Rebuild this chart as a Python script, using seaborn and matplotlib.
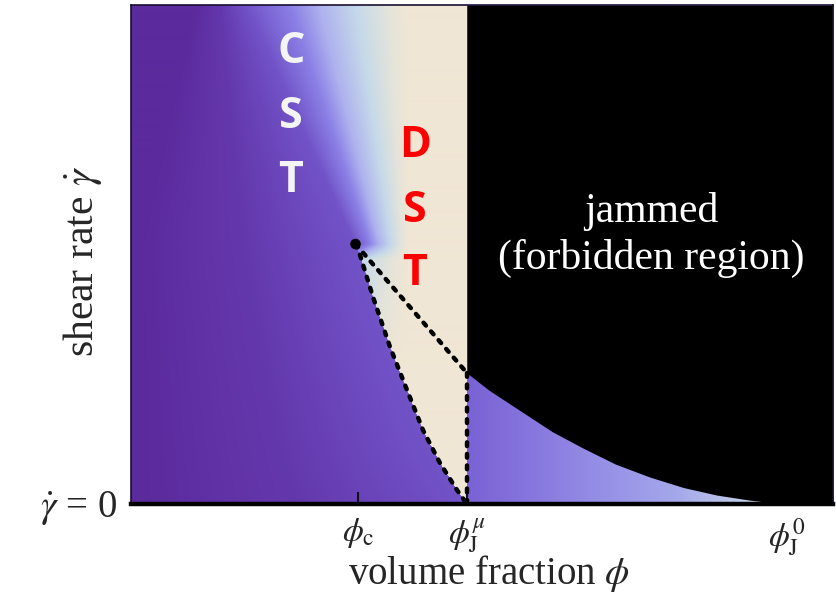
import numpy as np
import matplotlib
matplotlib.use("Agg")
import matplotlib.pyplot as plt
from matplotlib.colors import LinearSegmentedColormap
import seaborn as sns

# ---- state diagram in normalised (volume fraction, shear rate) coordinates ----
tick_positions = [0.3234, 0.4786, 0.9345]
tick_labels = [r"$\phi_{\mathrm{c}}$", r"$\phi_{\mathrm{J}}^{\mu}$", r"$\phi_{\mathrm{J}}^{0}$"]
phi_c, phi_J_mu, phi_J_0 = tick_positions

critical_phi = [0.3198]
critical_rate = [0.521]

# left DST boundary: critical point down to (phi_J^mu, 0)
dst_left_phi = [0.3198, 0.3262, 0.3447, 0.3689, 0.3932, 0.4160, 0.4402, 0.4644, 0.4786]
dst_left_rate = [0.521, 0.499, 0.415, 0.315, 0.2285, 0.148, 0.082, 0.028, 0.0]
# upper DST boundary: critical point to the jamming line at phi_J^mu
dst_upper_phi = [0.3198, 0.4786]
dst_upper_rate = [0.521, 0.2625]
# vertical DST boundary at phi_J^mu
dst_vert_phi = [0.4786, 0.4786]
dst_vert_rate = [0.2625, 0.0]

# jamming line between phi_J^mu and phi_J^0
jam_phi = [0.4786, 0.51, 0.549, 0.60, 0.644, 0.69, 0.739, 0.787, 0.834, 0.88, 0.91, 0.9345]
jam_rate = [0.2625, 0.228, 0.192, 0.145, 0.112, 0.080, 0.054, 0.033, 0.018, 0.008, 0.003, 0.0]

# crossover (CST) band: where the fluid colour starts to lighten at the top,
# where the dark region ends at the top, and where the band turns beige
cst_left_top = 0.165
cst_dark_top = 0.09
cst_right = 0.395

region_labels = ["jammed", "(forbidden region)"]
cst_letters = ["C", "S", "T"]
dst_letters = ["D", "S", "T"]

sns.set_theme(style="white")
plt.rcParams["font.family"] = ["Liberation Serif", "DejaVu Serif"]
plt.rcParams["mathtext.fontset"] = "stix"

# ---- colour maps for the viscosity shading ----
purple_cmap = sns.blend_palette(["#5b2a9c", "#6438ad", "#7254c8"], as_cmap=True)
cross_cmap = LinearSegmentedColormap.from_list(
    "cross",
    [(0.0, "#7254c8"), (0.27, "#8b80e6"), (0.45, "#aeb2ee"),
     (0.68, "#c6d9e9"), (0.88, "#e4e4da"), (1.0, "#f0e6d5")])
flow_cmap = LinearSegmentedColormap.from_list(
    "flow",
    [(0.0, "#7a62d4"), (0.16, "#8472dc"), (0.41, "#958ee6"), (0.66, "#a5a8ea"),
     (0.85, "#bfcbeb"), (0.94, "#d6e0e6"), (1.0, "#ebe9df")])

ny, nx = 500, 702
xs = (np.arange(nx) + 0.5) / nx
ys = (np.arange(ny) + 0.5) / ny
X, Y = np.meshgrid(xs, ys)
xc, yc = critical_phi[0], critical_rate[0]

frac = np.clip((Y - yc) / (1 - yc), 0, None)
xL_above = xc + (cst_left_top - xc) * frac
x0 = cst_dark_top * frac
xd = np.interp(Y, dst_left_rate[::-1], dst_left_phi[::-1])
above = Y >= yc

edge = np.where(above, xL_above, xd)
u = np.clip((X - x0) / np.maximum(edge - x0, 1e-6), 0, 1)
t_above = np.clip((X - xL_above) / (cst_right - xL_above), 0, 1)
# below the critical point the light band right of the DST line fades into beige
depth = np.clip(yc - Y, 0, None)
lift = 0.62 * np.clip(depth / 0.03, 0, 1) + 0.38 * np.clip(depth / 0.22, 0, 1)
ramp = np.clip((X - xd) / np.maximum(cst_right - xd, 1e-6), 0, 1)
ramp = np.where(xd < cst_right, ramp, 1.0)
t_below = np.clip(lift + (1 - lift) * ramp, 0, 1)
t = np.where(above, t_above, t_below)
rgb = np.where((X < edge)[..., None], purple_cmap(u)[..., :3], cross_cmap(t)[..., :3])
s = np.clip((X - phi_J_mu) / (phi_J_0 - phi_J_mu), 0, 1)
rgb = np.where((X >= phi_J_mu)[..., None], flow_cmap(s)[..., :3], rgb)

# ---- figure ----
fig = plt.figure(figsize=(8.37, 5.98), dpi=100)
ax = fig.add_axes([131 / 837, 1 - 504 / 598, 702 / 837, 499 / 598])

ax.imshow(rgb, extent=(0, 1, 0, 1), origin="lower", aspect="auto",
          interpolation="bilinear", zorder=0)

# jammed (forbidden) region above the jamming line
ax.fill_between(np.r_[jam_phi, 1.0], np.r_[jam_rate, 0.0], 1.0,
                color="black", lw=0, zorder=1)

n_before = len(ax.get_lines())
for bx, by in [(dst_left_phi, dst_left_rate), (dst_upper_phi, dst_upper_rate),
               (dst_vert_phi, dst_vert_rate)]:
    sns.lineplot(x=bx, y=by, ax=ax, color="black", estimator=None, sort=False)
for ln in ax.get_lines()[n_before:]:
    ln.set_linewidth(3.2)
    ln.set_linestyle((0, (0.85, 1.75)))
    ln.set_dash_capstyle("round")
    ln.set_zorder(3)

sns.scatterplot(x=critical_phi, y=critical_rate, ax=ax, s=58, color="black",
                edgecolor="none", zorder=4)

for letter, yb in zip(cst_letters, [0.884, 0.7535, 0.625]):
    ax.text(0.228, yb, letter, color="#f4f4f4", fontsize=31, fontweight="bold",
            family=["Open Sans", "DejaVu Sans"], ha="center", va="baseline", zorder=5)
for letter, yb in zip(dst_letters, [0.695, 0.565, 0.439]):
    ax.text(0.4046, yb, letter, color="#ff0000", fontsize=31, fontweight="bold",
            family=["Open Sans", "DejaVu Sans"], ha="center", va="baseline", zorder=5)
for label, yb in zip(region_labels, [0.565, 0.471]):
    ax.text(0.741, yb, label, color="white", fontsize=30, ha="center",
            va="baseline", zorder=5)

ax.set_xlim(0, 1)
ax.set_ylim(0, 1)
ax.set_xticks(tick_positions)
ax.set_xticklabels(tick_labels, fontsize=24)
ax.set_yticks([0.0])
ax.set_yticklabels([r"$\dot{\gamma}$ = 0"], fontsize=28)
ax.tick_params(axis="x", direction="in", length=8.5, width=1.5, color="#111111",
               pad=9, bottom=True)
ax.tick_params(axis="y", length=0, pad=10, left=True)

ax.set_xlabel(r"volume fraction $\phi$", fontsize=28)
ax.xaxis.set_label_coords(0.51, -0.098)
ax.set_ylabel(r"shear rate $\dot{\gamma}$", fontsize=30)
ax.yaxis.set_label_coords(-0.038, 0.486)

for side in ["top", "left", "right"]:
    ax.spines[side].set_linewidth(1.2)
    ax.spines[side].set_color("#1a1030")
ax.spines["bottom"].set_linewidth(3.2)
ax.spines["bottom"].set_color("black")

fig.savefig("out.png", dpi=100)
